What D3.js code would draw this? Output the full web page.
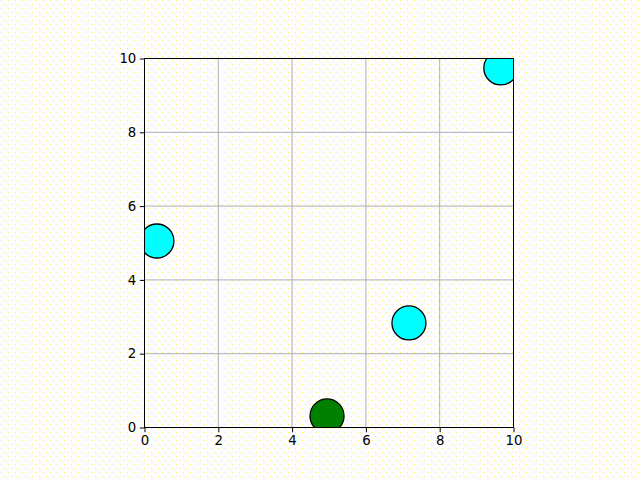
<!DOCTYPE html>
<html>
<head>
<meta charset="utf-8">
<script src="https://cdn.jsdelivr.net/npm/d3@7"></script>
<style>
  body { margin: 0; background: #fff; }
  svg { display: block; }
</style>
</head>
<body>
<svg width="640" height="480"></svg>
<script>
const xs = [0.35, 7.18, 9.67, 4.96];
const ys = [5.04, 2.82, 9.73, 0.30];
const colors = ["cyan", "cyan", "cyan", "green"];
const ticks = [0, 2, 4, 6, 8, 10];

const svg = d3.select("svg");
const width = +svg.attr("width");
const height = +svg.attr("height");

// gif-ish dither of the background
const defs = svg.append("defs");
const pat = defs.append("pattern")
  .attr("id", "dither")
  .attr("width", 7).attr("height", 8)
  .attr("patternUnits", "userSpaceOnUse");
pat.append("rect").attr("width", 7).attr("height", 8).attr("fill", "#fdfdff");
pat.append("rect").attr("x", 1).attr("y", 0).attr("width", 1).attr("height", 1).attr("fill", "#fff04a");
pat.append("rect").attr("x", 4).attr("y", 4).attr("width", 1).attr("height", 1).attr("fill", "#fff04a");

svg.append("rect").attr("width", width).attr("height", height).attr("fill", "url(#dither)");

const mLeft = 144, mRight = 513, mTop = 58, mBottom = 427;

const x = d3.scaleLinear().domain([0, 10]).range([mLeft, mRight]);
const y = d3.scaleLinear().domain([0, 10]).range([mBottom, mTop]);

defs.append("clipPath").attr("id", "clip")
  .append("rect")
  .attr("x", mLeft).attr("y", mTop)
  .attr("width", mRight - mLeft).attr("height", mBottom - mTop);

// grid
const grid = svg.append("g");
grid.selectAll(".vg")
  .data(ticks)
  .enter().append("line")
  .attr("x1", d => x(d) + 0.5).attr("x2", d => x(d) + 0.5)
  .attr("y1", mTop).attr("y2", mBottom)
  .attr("stroke", "#b0b0b0").attr("stroke-width", 1);
grid.selectAll(".hg")
  .data(ticks)
  .enter().append("line")
  .attr("y1", d => y(d) + 0.5).attr("y2", d => y(d) + 0.5)
  .attr("x1", mLeft).attr("x2", mRight)
  .attr("stroke", "#b0b0b0").attr("stroke-width", 1);

// points
svg.append("g")
  .attr("clip-path", "url(#clip)")
  .selectAll("circle")
  .data(xs)
  .enter().append("circle")
  .attr("cx", (d, i) => x(d))
  .attr("cy", (d, i) => y(ys[i]))
  .attr("r", 17)
  .attr("fill", (d, i) => colors[i])
  .attr("stroke", "black")
  .attr("stroke-width", 1.3);

// axes
const xAxis = d3.axisBottom(x).tickValues(ticks).tickSize(4.7).tickPadding(3.5).tickFormat(d3.format("d"));
const yAxis = d3.axisLeft(y).tickValues(ticks).tickSize(4.7).tickPadding(3.5).tickFormat(d3.format("d"));

const gx = svg.append("g").attr("transform", `translate(0.5,${mBottom + 0.5})`).call(xAxis);
const gy = svg.append("g").attr("transform", `translate(${mLeft + 0.5},0.5)`).call(yAxis);

[gx, gy].forEach(g => {
  g.select(".domain").remove();
  g.selectAll("text")
    .attr("font-family", "DejaVu Sans")
    .attr("font-size", "13.3px")
    .attr("fill", "black");
  g.selectAll("line").attr("stroke", "black").attr("stroke-width", 1);
});

// frame
svg.append("rect")
  .attr("x", mLeft + 0.5).attr("y", mTop + 0.5)
  .attr("width", mRight - mLeft).attr("height", mBottom - mTop)
  .attr("fill", "none")
  .attr("stroke", "black")
  .attr("stroke-width", 1);
</script>
</body>
</html>
